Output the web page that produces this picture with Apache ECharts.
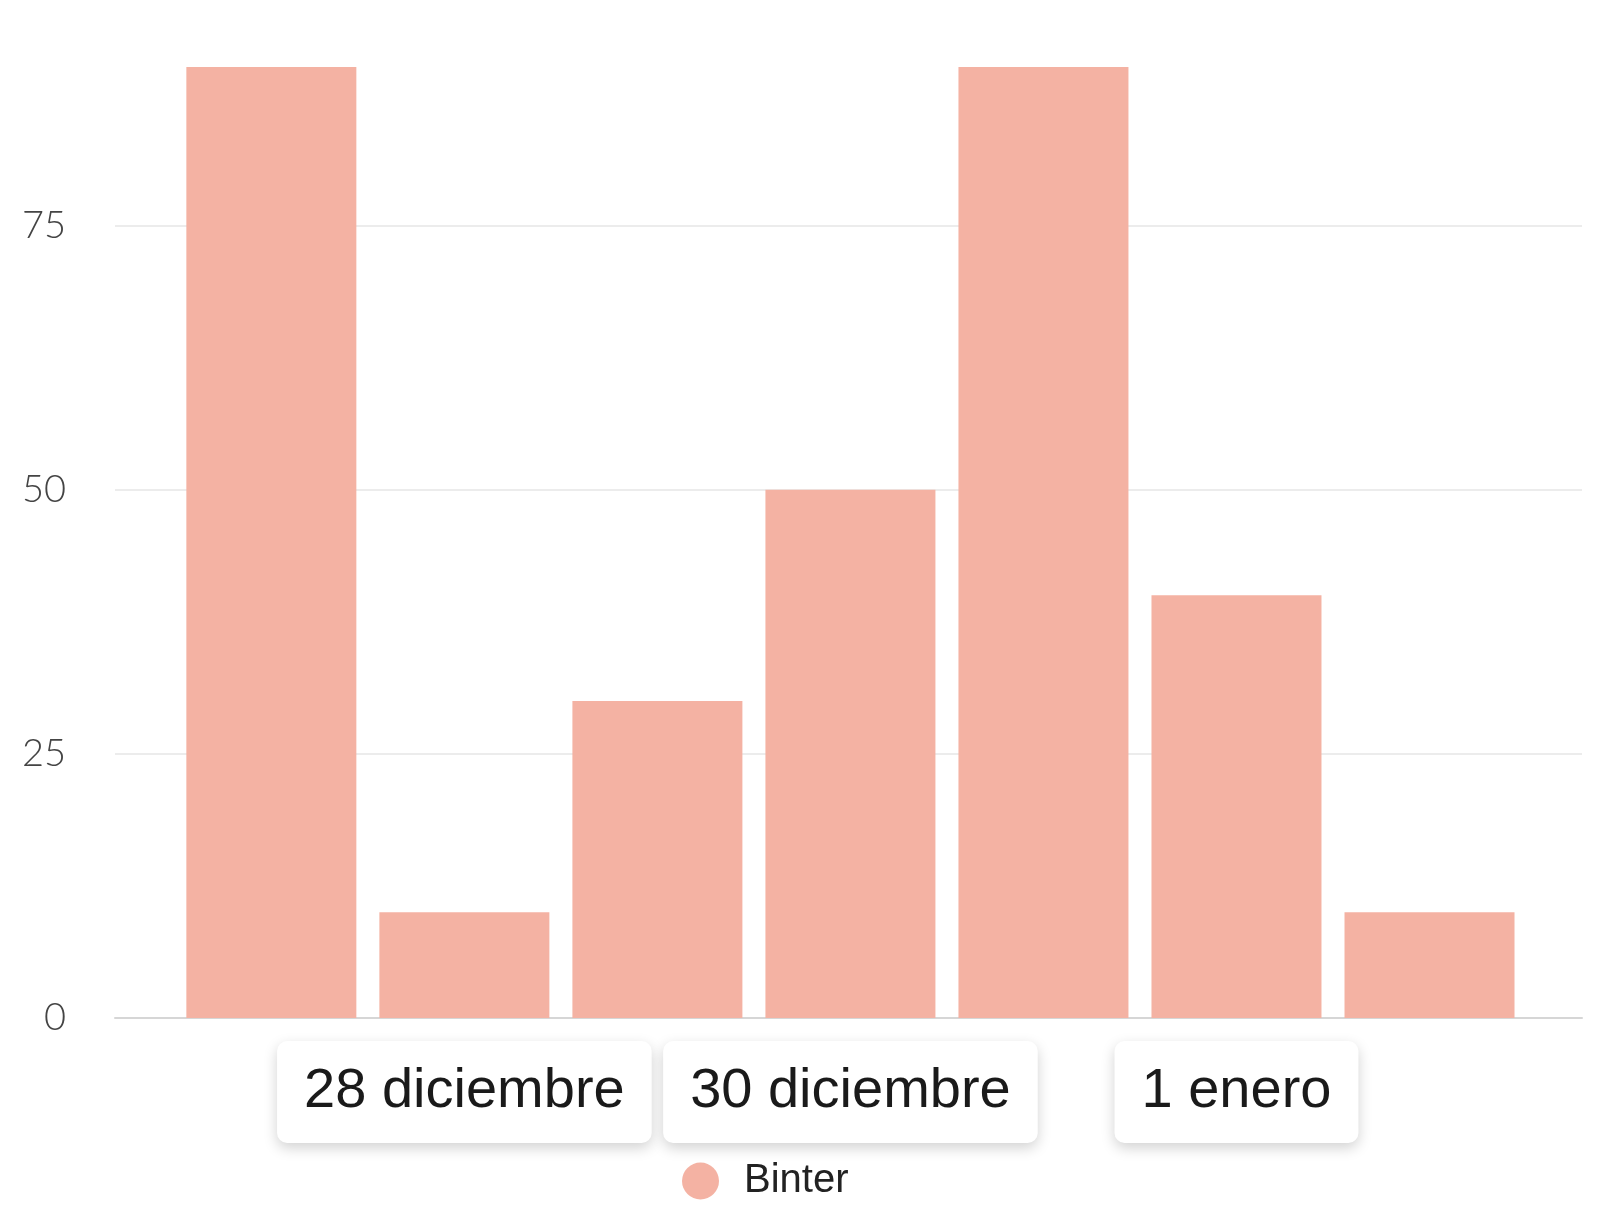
<!DOCTYPE html>
<html><head><meta charset="utf-8">
<script src="https://cdn.jsdelivr.net/npm/echarts@6/dist/echarts.min.js"></script>
<style>html,body{margin:0;padding:0;background:#fff}#c{width:1600px;height:1218px}</style>
</head><body><div id="c"></div>
<script>
const categories = ['27 diciembre','28 diciembre','29 diciembre','30 diciembre','31 diciembre','1 enero','2 enero'];
const values = [90, 10, 30, 50, 90, 40, 10];
const labelledDays = [1, 3, 5];
const yTicks = [0, 25, 50, 75];
const seriesName = 'Binter';

const color = '#F4B2A3';
const chart = echarts.init(document.getElementById('c'), null, {renderer:'canvas'});
chart.setOption({
  backgroundColor: '#ffffff',
  animation: false,
  grid: {left: 115, right: 18, top: 67, bottom: 200},
  legend: {
    data: [seriesName], left: 677, top: 1156, icon: 'circle',
    itemWidth: 37, itemHeight: 37, itemGap: 10,
    textStyle: {fontFamily: 'Liberation Sans', fontSize: 40, color: '#222', padding: [0, 0, 0, 20]}
  },
  xAxis: {
    type: 'value', min: -0.81, max: 6.79,
    splitLine: {show: false},
    axisTick: {show: false},
    axisLine: {show: true, lineStyle: {color: '#d6d6d6', width: 2}},
    axisLabel: {
      customValues: labelledDays,
      formatter: v => categories[v],
      fontFamily: 'Liberation Sans', fontSize: 56, color: '#1a1a1a',
      margin: 23,
      backgroundColor: '#ffffff', borderRadius: 10,
      padding: [23, 27, 23, 27],
      shadowBlur: 14, shadowColor: 'rgba(0,0,0,0.18)', shadowOffsetY: 5
    }
  },
  yAxis: {
    type: 'value', min: 0, max: 90, interval: 25,
    axisLine: {show: false}, axisTick: {show: false},
    splitLine: {show: true, showMaxLine: false, lineStyle: {color: '#ececec', width: 2}},
    axisLabel: {
      showMaxLabel: false, margin: 49,
      fontFamily: 'Lato', fontWeight: 300, fontSize: 38, color: '#444'
    }
  },
  series: [{
    name: seriesName, type: 'bar', barWidth: 170,
    itemStyle: {color: color},
    data: values.map((v, i) => [i, v])
  }]
});
</script></body></html>
